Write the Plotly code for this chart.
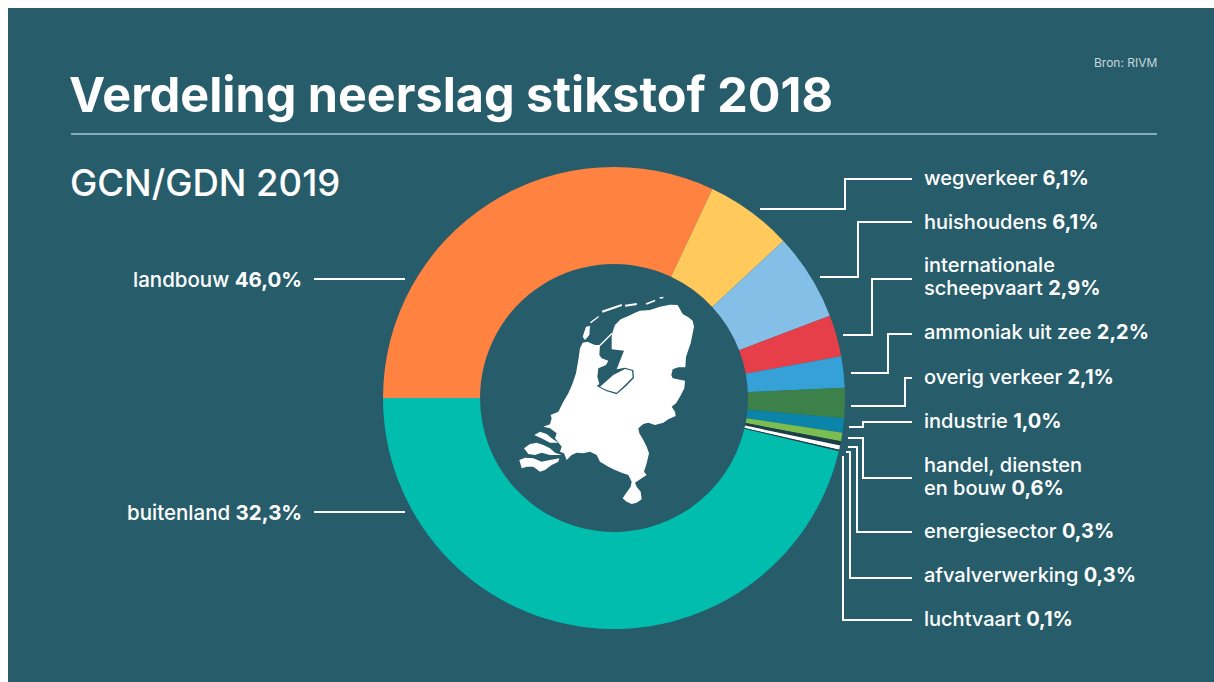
import plotly.graph_objects as go

W, H = 1214, 682

# slice sizes as drawn in the picture: orange is the ~32% slice, teal the ~46% one,
# even though the printed labels say the opposite
categories = ["landbouw", "wegverkeer", "huishoudens", "internationale scheepvaart", "ammoniak uit zee",
              "overig verkeer", "industrie", "handel, diensten en bouw", "energiesector",
              "afvalverwerking", "luchtvaart", "buitenland"]
values = [32.0, 6.1, 6.1, 2.9, 2.2, 2.1, 1.0, 0.6, 0.3, 0.3, 0.1, 46.3]
colors = ["#ff8240", "#ffc95c", "#83bfe6", "#e63f4a", "#36a1d6", "#3c8149", "#0a84a8", "#7abd50",
          "#1d3d47", "#ffffff", "#1d3d47", "#00bdae"]

BG = "#275d6b"
FONT = "Inter"

# label text, middle y
right_labels = [
    ("wegverkeer <b>6,1%</b>", 178),
    ("huishoudens <b>6,1%</b>", 222),
    ("internationale", 265),
    ("scheepvaart <b>2,9%</b>", 288),
    ("ammoniak uit zee <b>2,2%</b>", 332),
    ("overig verkeer <b>2,1%</b>", 377),
    ("industrie <b>1,0%</b>", 421),
    ("handel, diensten", 465),
    ("en bouw <b>0,6%</b>", 488),
    ("energiesector <b>0,3%</b>", 531),
    ("afvalverwerking <b>0,3%</b>", 575),
    ("luchtvaart <b>0,1%</b>", 619),
]
left_labels = [("landbouw <b>46,0%</b>", 279), ("buitenland <b>32,3%</b>", 512)]

leaders = [
    [(760, 209), (845, 209), (845, 179), (912, 179)],
    [(820, 277), (858, 277), (858, 222), (912, 222)],
    [(843, 335), (872, 335), (872, 279), (912, 279)],
    [(851, 373), (888, 373), (888, 334), (912, 334)],
    [(851, 406), (905, 406), (905, 378), (912, 378)],
    [(849, 427), (863, 427), (863, 422), (912, 422)],
    [(848, 438), (863, 438), (863, 478), (912, 478)],
    [(848, 447), (857, 447), (857, 532), (912, 532)],
    [(846, 452), (850, 452), (850, 578), (912, 578)],
    [(843, 456), (843, 620), (912, 620)],
    [(314, 279), (405, 279)],
    [(314, 512), (405, 512)],
]

# Netherlands outline, traced in 3x crop coordinates from (500, 290)
nl_main = [(338, 125), (345, 105), (362, 88), (385, 78), (405, 68), (420, 62), (450, 60), (480, 50), (510, 44),
           (533, 45), (540, 58), (548, 72), (565, 82), (578, 92), (582, 110), (578, 130), (572, 160), (565, 180),
           (558, 200), (556, 232), (535, 232), (518, 238), (514, 255), (518, 265), (555, 272), (553, 295),
           (540, 320), (528, 340), (515, 350), (525, 365), (527, 378), (505, 388), (490, 398), (465, 405),
           (445, 398), (430, 402), (415, 415), (418, 430), (430, 450), (440, 470), (447, 490), (440, 520),
           (432, 545), (440, 555), (425, 565), (405, 578), (410, 590), (422, 605), (425, 628), (410, 638),
           (395, 642), (380, 635), (368, 625), (378, 610), (392, 590), (395, 575), (385, 555), (365, 548),
           (345, 540), (325, 530), (300, 515), (290, 495), (270, 485), (250, 490), (230, 488), (215, 495),
           (200, 510), (192, 490), (180, 485), (185, 470), (165, 445), (170, 430), (150, 415), (130, 410),
           (150, 403), (155, 385), (152, 375), (175, 365), (190, 335), (205, 310), (218, 280), (228, 250),
           (235, 210), (240, 175), (248, 158), (262, 155), (285, 165), (300, 165), (298, 195), (305, 205),
           (325, 212), (318, 225), (295, 235), (292, 260), (298, 282), (290, 288), (318, 303), (350, 313),
           (378, 289), (402, 264), (400, 240), (375, 233), (350, 238), (372, 182), (335, 178), (335, 140)]
nl_flevoland = [(300, 290), (340, 255), (375, 237), (396, 242), (398, 262), (375, 285), (350, 308), (320, 300)]
nl_afsluitdijk = [(298, 165), (335, 128), (338, 131), (301, 168)]
nl_islands = [
    [(58, 510), (75, 503), (100, 505), (125, 515), (150, 510), (178, 505), (175, 515), (155, 525), (135, 540),
     (120, 545), (100, 530), (80, 530), (65, 535)],
    [(72, 475), (90, 462), (110, 458), (130, 465), (150, 475), (165, 488), (185, 495), (150, 495), (125, 488),
     (105, 495), (85, 492)],
    [(103, 435), (120, 425), (140, 432), (155, 445), (175, 458), (150, 458), (130, 448)],
    [(248, 140), (258, 110), (270, 108), (268, 135), (255, 150)],
    [(270, 97), (295, 78), (297, 81), (273, 100)],
    [(305, 62), (365, 42), (366, 48), (308, 68)],
    [(375, 44), (410, 39), (411, 45), (376, 50)],
    [(437, 40), (465, 29), (466, 34), (440, 44)],
    [(478, 22), (490, 20), (490, 25), (480, 26)],
]


def px(x):
    return x / W


def py(y):
    return 1 - y / H


def crop_path(points):
    pts = [(px(500 + x / 3), py(290 + y / 3)) for x, y in points]
    return "M" + " L".join(f"{x:.5f},{y:.5f}" for x, y in pts) + " Z"


def line_path(points):
    return "M" + " L".join(f"{px(x):.5f},{py(y):.5f}" for x, y in points)


fig = go.Figure(go.Pie(
    labels=categories,
    values=values,
    marker=dict(colors=colors, line=dict(width=0)),
    hole=0.58,
    sort=False,
    direction="clockwise",
    rotation=270,
    textinfo="none",
    showlegend=False,
    domain=dict(x=[px(614 - 231), px(614 + 231)], y=[py(398 + 231), py(398 - 231)]),
))

shapes = [
    dict(type="rect", xref="paper", yref="paper", x0=px(8), x1=1, y0=0, y1=py(8),
         fillcolor=BG, line_width=0, layer="below"),
    dict(type="line", xref="paper", yref="paper", x0=px(71), x1=px(1157), y0=py(134), y1=py(134),
         line=dict(color="#a5c8d2", width=1.5)),
]
for pts in leaders:
    shapes.append(dict(type="path", xref="paper", yref="paper", path=line_path(pts),
                       line=dict(color="white", width=2)))
for poly in [nl_main, nl_flevoland, nl_afsluitdijk] + nl_islands:
    shapes.append(dict(type="path", xref="paper", yref="paper", path=crop_path(poly),
                       fillcolor="white", line_width=0))


def text(x, y, s, size, anchor="left", color="white", weight=None):
    return dict(x=px(x), y=py(y), xref="paper", yref="paper", text=s, showarrow=False,
                xanchor=anchor, yanchor="middle", align=anchor,
                font=dict(family=FONT, size=size, color=color, weight=weight))


annotations = [
    text(67, 95, "Verdeling neerslag stikstof 2018", 48.5, weight=700),
    text(68, 183, "GCN/GDN 2019", 36.5, weight=500),
    text(1159, 62, "Bron: RIVM", 12, anchor="right", color="#c6d7dc"),
]
for s, y in right_labels:
    annotations.append(text(922, y, s, 20, weight=500))
for s, y in left_labels:
    annotations.append(text(304, y, s, 20.5, anchor="right", weight=500))

fig.update_layout(
    width=W, height=H,
    margin=dict(l=0, r=0, t=0, b=0),
    paper_bgcolor="white",
    shapes=shapes,
    annotations=annotations,
)

fig.write_html("out.html", config=dict(displayModeBar=False), post_script="document.body.style.margin = '0';")
